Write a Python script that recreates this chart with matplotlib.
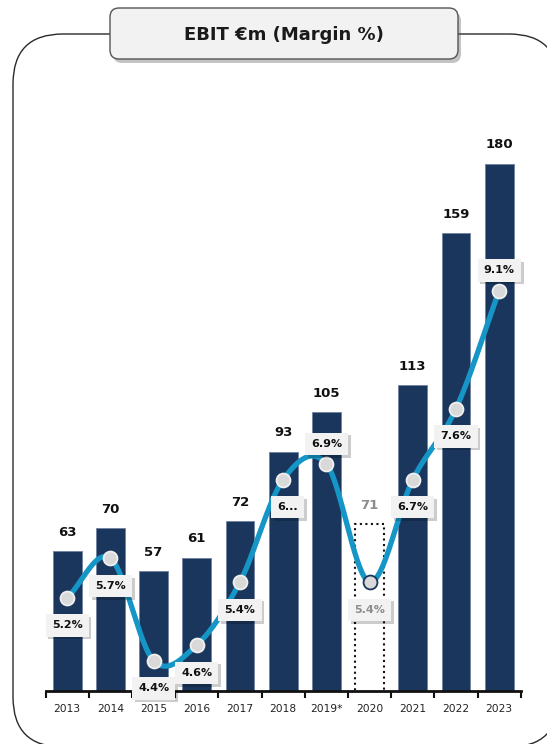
import numpy as np
import matplotlib
matplotlib.use('Agg')
import matplotlib.pyplot as plt
from matplotlib.patches import FancyBboxPatch
import matplotlib.patheffects as pe

plt.rcParams['font.family'] = ['DejaVu Sans']

years = ['2013', '2014', '2015', '2016', '2017', '2018', '2019*', '2020', '2021', '2022', '2023']
ebit = [63, 70, 57, 61, 72, 93, 105, 71, 113, 159, 180]
margin = [5.2, 5.7, 4.4, 4.6, 5.4, 6.7, 6.9, 5.4, 6.7, 7.6, 9.1]
margin_text = ['5.2%', '5.7%', '4.4%', '4.6%', '5.4%', '6...', '6.9%', '5.4%', '6.7%', '7.6%', '9.1%']
label_above = [False, False, False, False, False, False, True, False, False, False, True]
estimate_year = '2020'

navy = '#1b365d'
cyan = '#1596c6'
W, H = 547, 744

fig = plt.figure(figsize=(W / 100, H / 100), dpi=100)

# background layer in pixel coordinates for the frame and title box
bg = fig.add_axes([0, 0, 1, 1], zorder=0)
bg.set_xlim(0, W)
bg.set_ylim(H, 0)
bg.axis('off')
frame = FancyBboxPatch((13, 34), 546, 713, boxstyle='round,pad=0,rounding_size=50',
                       fc='white', ec='#2a2a2a', lw=1.0, clip_on=False)
bg.add_patch(frame)
shadow = FancyBboxPatch((113, 12), 348, 51, boxstyle='round,pad=0,rounding_size=9',
                        fc='#555555', ec='none', alpha=0.35)
bg.add_patch(shadow)
title_box = FancyBboxPatch((110, 8), 348, 51, boxstyle='round,pad=0,rounding_size=9',
                           fc='#f2f2f2', ec='#555555', lw=1.0)
bg.add_patch(title_box)
bg.text(284, 35, 'EBIT €m (Margin %)', ha='center', va='center',
        fontsize=13, fontweight='bold', color='#1a1a1a')

ax = fig.add_axes([45.6 / W, 53 / H, 475.2 / W, 591 / H], zorder=1)
ax.patch.set_alpha(0)
x = np.arange(len(years))

for i, (yr, v) in enumerate(zip(years, ebit)):
    if yr == estimate_year:
        ax.bar(i, v, width=0.67, color='white', edgecolor='#111111', lw=1.5, ls=':')
        col = '#8c8c8c'
    else:
        ax.bar(i, v, width=0.67, color=navy, edgecolor='#6f82a0', lw=0.6)
        col = '#111111'
    ax.annotate(str(v), (i, v), xytext=(0, 13.5), textcoords='offset points',
                ha='center', va='center', fontsize=9.5, fontweight='bold', color=col)

ax.set_xlim(-0.5, len(years) - 0.5)
ax.set_ylim(20.7, 199.2)
for s in ['top', 'right', 'left']:
    ax.spines[s].set_visible(False)
ax.spines['bottom'].set_linewidth(2)
ax.spines['bottom'].set_color('#111111')
ax.set_yticks([])
ax.set_xticks(np.arange(-0.5, len(years)), labels=[])
ax.tick_params(axis='x', which='major', length=5, width=1.5, direction='out', color='#111111')
ax.set_xticks(x, labels=years, minor=True)
ax.tick_params(axis='x', which='minor', length=0, pad=9, labelsize=7.7, labelcolor='#222222')

ax2 = ax.twinx()
ax2.set_ylim(4.015, 11.52)
ax2.axis('off')

# smooth margin line (Catmull-Rom through the yearly points)
pts = np.column_stack([x, margin]).astype(float)
ext = np.vstack([2 * pts[0] - pts[1], pts, 2 * pts[-1] - pts[-2]])
curve = []
t = np.linspace(0, 1, 30)[:, None]
for k in range(1, len(ext) - 2):
    p0, p1, p2, p3 = ext[k - 1], ext[k], ext[k + 1], ext[k + 2]
    seg = 0.5 * ((2 * p1) + (-p0 + p2) * t + (2 * p0 - 5 * p1 + 4 * p2 - p3) * t ** 2
                 + (-p0 + 3 * p1 - 3 * p2 + p3) * t ** 3)
    curve.append(seg)
curve = np.vstack(curve)
ax2.plot(curve[:, 0], curve[:, 1], color=cyan, lw=3.8, solid_capstyle='round', zorder=2)

for i, (yr, m) in enumerate(zip(years, margin)):
    ec = navy if yr == estimate_year else '#f0f0f0'
    ax2.plot(i, m, 'o', ms=10, mfc='#d9d9d9', mec=ec, mew=1.3, zorder=3)

for i, (yr, m, txt, up) in enumerate(zip(years, margin, margin_text, label_above)):
    dy = 14.5 if up else -20
    dx = 3 if txt == '6...' else 0
    col = '#8c8c8c' if yr == estimate_year else '#111111'
    t_ = ax2.annotate(txt, (i, m), xytext=(dx, dy), textcoords='offset points',
                      ha='center', va='center', fontsize=8, fontweight='bold', color=col,
                      bbox=dict(boxstyle='square,pad=0.55', fc='#f2f2f2', ec='none'), zorder=4)
    t_.get_bbox_patch().set_path_effects([
        pe.withSimplePatchShadow(offset=(2, -2), shadow_rgbFace='#000000', alpha=0.2),
        pe.Normal()])

fig.savefig('out.png', dpi=100)
